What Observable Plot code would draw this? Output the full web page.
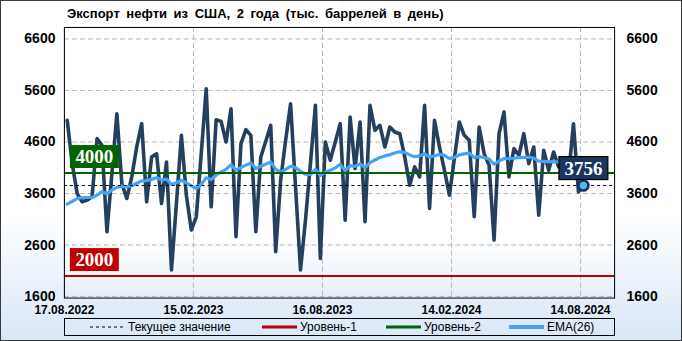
<!DOCTYPE html>
<html><head><meta charset="utf-8">
<script src="https://cdn.jsdelivr.net/npm/d3@7"></script>
<script src="https://cdn.jsdelivr.net/npm/@observablehq/plot@0.6"></script>
<style>
html,body{margin:0;padding:0;background:#fff;}
#wrap{position:relative;width:682px;height:341px;box-sizing:border-box;border:1px solid #3a3a3a;
  background:linear-gradient(to bottom,#ffffff 0%,#ffffff 62%,#d9e7f8 100%);overflow:hidden;
  font-family:"Liberation Sans",Arial,sans-serif;}
#chart{position:absolute;left:-1px;top:-1px;}
#title{position:absolute;left:66px;top:5px;font-weight:bold;font-size:13px;color:#000;white-space:nowrap;word-spacing:3px;}
#legend{position:absolute;left:63px;top:317px;width:551px;height:18px;border:1px solid #000;box-sizing:border-box;}
#legend .it{position:absolute;top:0;height:16px;line-height:16px;font-size:12px;color:#000;white-space:nowrap;}
#legend svg{position:absolute;top:0;}
</style></head>
<body>
<div id="wrap">
  <div id="chart"></div>
  <div id="title"></div>
  <div id="legend"></div>
</div>
<script>
const titleText = "Экспорт нефти из США, 2 года (тыс. баррелей в день)";
const startDate = Date.UTC(2022, 7, 21); // first weekly observation
const exportValues = [
  5019, 4181, 3600, 3439, 3471, 3536, 4665, 4535, 2858, 3987, 5148, 3794, 3503, 3923, 4503, 4955,
  3439, 4310, 4374, 3407, 4213, 2117, 3407, 4729, 3568, 2891, 3149, 4374, 5632, 3342, 5032, 5000,
  4600, 5245, 2762, 4568, 4839, 4729, 2858, 4310, 4613, 4923, 2472, 3858, 4632, 5342, 3729, 2117,
  3084, 4181, 5310, 2342, 4600, 4245, 4600, 4955, 3084, 5084, 4084, 4987, 3052, 5310, 4826, 4923,
  4503, 4890, 4794, 4761, 4310, 3762, 4116, 3923, 5310, 3310, 5019, 4503, 4052, 3568, 4277, 4987,
  4729, 4632, 3149, 4890, 4374, 4148, 2697, 4761, 5180, 3923, 4471, 4342, 4761, 4181, 4503, 3181,
  4439, 4052, 4406, 4116, 4200, 3950, 4955, 3632, 3756
];
const emaValues = [
  3394, 3450, 3500, 3523, 3523, 3523, 3568, 3640, 3590, 3670, 3720, 3742, 3730, 3750, 3800, 3846,
  3850, 3875, 3905, 3865, 3880, 3775, 3810, 3858, 3805, 3750, 3697, 3780, 3905, 3871, 3960, 4019,
  4070, 4160, 4055, 4103, 4150, 4193, 4084, 4130, 4170, 4213, 4070, 4015, 4070, 4129, 4103, 4030,
  3974, 3968, 4070, 3950, 4013, 4050, 4097, 4170, 4040, 4142, 4125, 4180, 4100, 4200, 4250, 4300,
  4330, 4355, 4385, 4410, 4400, 4350, 4315, 4330, 4370, 4310, 4330, 4361, 4340, 4280, 4300, 4350,
  4370, 4387, 4297, 4315, 4300, 4270, 4168, 4230, 4277, 4280, 4285, 4295, 4300, 4305, 4290, 4226,
  4225, 4220, 4215, 4213, 4210, 4200, 4230, 4200, 4180
];
const levelValues = [2000, 4000];
const levelNames = ["Уровень-1", "Уровень-2"];
const levelColors = ["#c00000", "#006400"];
const yTicks = [1600, 2600, 3600, 4600, 5600, 6600];
const xTickLabels = ["17.08.2022", "15.02.2023", "16.08.2023", "14.02.2024", "14.08.2024"];
const legendLabels = ["Текущее значение", "Уровень-1", "Уровень-2", "EMA(26)"];

const parseTick = d3.utcParse("%d.%m.%Y");
const xTicks = xTickLabels.map(parseTick);
const fmt = d3.utcFormat("%d.%m.%Y");
const series = exportValues.map((v, i) => ({date: d3.utcDay.offset(new Date(startDate), 7 * i), value: v}));
const ema = emaValues.map((v, i) => ({date: series[i].date, value: v}));
const last = series[series.length - 1];
const levels = levelValues.map((v, i) => ({value: v, name: levelNames[i], color: levelColors[i], label: String(v)}));

document.getElementById("title").textContent = titleText;

const navy = "#253f5f";
const emaColor = "#45a3f5";
const serif = "Liberation Serif";

const plot = Plot.plot({
  width: 682, height: 341,
  marginLeft: 64, marginRight: 67, marginTop: 27, marginBottom: 43,
  style: {background: "transparent", fontFamily: "'Liberation Sans',Arial,sans-serif", color: "#000"},
  x: {type: "utc", domain: [parseTick("17.08.2022"), new Date(Date.UTC(2024, 9, 1))], label: null},
  y: {domain: [1571, 6823], label: null},
  marks: [
    Plot.frame({fill: "url(#plotgrad)"}),
    Plot.gridY(yTicks, {stroke: "#b8b8b8", strokeOpacity: 1, strokeDasharray: "5,3"}),
    Plot.gridX(xTicks, {stroke: "#b8b8b8", strokeOpacity: 1, strokeDasharray: "5,3"}),
    Plot.line(series, {x: "date", y: "value", stroke: navy, strokeWidth: 3.6, strokeLinejoin: "round", strokeLinecap: "round"}),
    Plot.line(ema, {x: "date", y: "value", stroke: emaColor, strokeWidth: 3.2, strokeLinejoin: "round"}),
    Plot.ruleY(levels, {y: "value", stroke: "color", strokeWidth: 2}),
    Plot.ruleY([last], {y: "value", stroke: "#000", strokeWidth: 1, strokeDasharray: "3,3"}),
    Plot.text(levels, {y: "value", text: "label", frameAnchor: "left", textAnchor: "start", dx: 11,
      dy: -16, fill: "white", fontSize: 19, fontWeight: "bold", fontFamily: serif}),
    Plot.dot([last], {x: "date", y: "value", r: 5, fill: "#5cb6dc", stroke: "#12306a", strokeWidth: 2.6}),
    Plot.text([last], {x: "date", y: "value", text: d => String(d.value), dy: -17, fill: "white",
      fontSize: 19, fontWeight: "bold", fontFamily: serif}),
    Plot.frame({stroke: "#000", strokeWidth: 1}),
    Plot.axisY(yTicks, {anchor: "left", label: null, tickSize: 0, tickPadding: 9, tickFormat: d => String(d), fontSize: 14, fontWeight: "bold"}),
    Plot.axisY(yTicks, {anchor: "right", label: null, tickSize: 0, tickPadding: 12, tickFormat: d => String(d), fontSize: 14, fontWeight: "bold"}),
    Plot.axisX(xTicks, {anchor: "bottom", label: null, tickSize: 0, tickPadding: 7, tickFormat: fmt, fontSize: 12, fontWeight: "bold"})
  ]
});
document.getElementById("chart").appendChild(plot);

// gradient for plot area
const ns = "http://www.w3.org/2000/svg";
const defs = document.createElementNS(ns, "defs");
defs.innerHTML = '<linearGradient id="plotgrad" x1="0" y1="0" x2="0" y2="1">' +
  '<stop offset="0" stop-color="#ffffff"/><stop offset="0.78" stop-color="#ffffff"/>' +
  '<stop offset="1" stop-color="#e4eef9"/></linearGradient>';
plot.insertBefore(defs, plot.firstChild);

// boxes behind labels (placed with each text's own transform)
function boxLabels(g, fills, strokeCol) {
  if (!g) return;
  g.querySelectorAll("text").forEach((t, i) => {
    const b = t.getBBox();
    const r = document.createElementNS(ns, "rect");
    const tr = t.getAttribute("transform");
    if (tr) r.setAttribute("transform", tr);
    r.setAttribute("x", b.x - 5.5);
    r.setAttribute("y", b.y + b.height / 2 - 11.5);
    r.setAttribute("width", b.width + 11);
    r.setAttribute("height", 23);
    r.setAttribute("fill", fills[i]);
    if (strokeCol) { r.setAttribute("stroke", strokeCol); r.setAttribute("stroke-width", 1.2); }
    t.parentNode.insertBefore(r, t);
  });
}
const serifGroups = Array.from(plot.querySelectorAll("g")).filter(g => (g.getAttribute("font-family") || "").includes("Liberation Serif"));
boxLabels(serifGroups[0], levels.map(d => d.color));
boxLabels(serifGroups[1], ["#1c355e"], "#000");

// legend
const legend = document.getElementById("legend");
const items = [
  {sx: 25, tx: 63, stroke: "#000", dash: "3,3", w: 1.2},
  {sx: 197, tx: 235, stroke: levelColors[0], dash: null, w: 3},
  {sx: 321, tx: 359, stroke: levelColors[1], dash: null, w: 3},
  {sx: 444, tx: 482, stroke: emaColor, dash: null, w: 4}
];
items.forEach((it, i) => {
  const s = document.createElementNS(ns, "svg");
  s.setAttribute("width", 36); s.setAttribute("height", 16);
  s.style.left = it.sx + "px";
  const l = document.createElementNS(ns, "line");
  l.setAttribute("x1", 0); l.setAttribute("x2", 35); l.setAttribute("y1", 8); l.setAttribute("y2", 8);
  l.setAttribute("stroke", it.stroke); l.setAttribute("stroke-width", it.w);
  if (it.dash) l.setAttribute("stroke-dasharray", it.dash);
  s.appendChild(l);
  legend.appendChild(s);
  const d = document.createElement("div");
  d.className = "it"; d.style.left = it.tx + "px"; d.textContent = legendLabels[i];
  legend.appendChild(d);
});
</script>
</body></html>
